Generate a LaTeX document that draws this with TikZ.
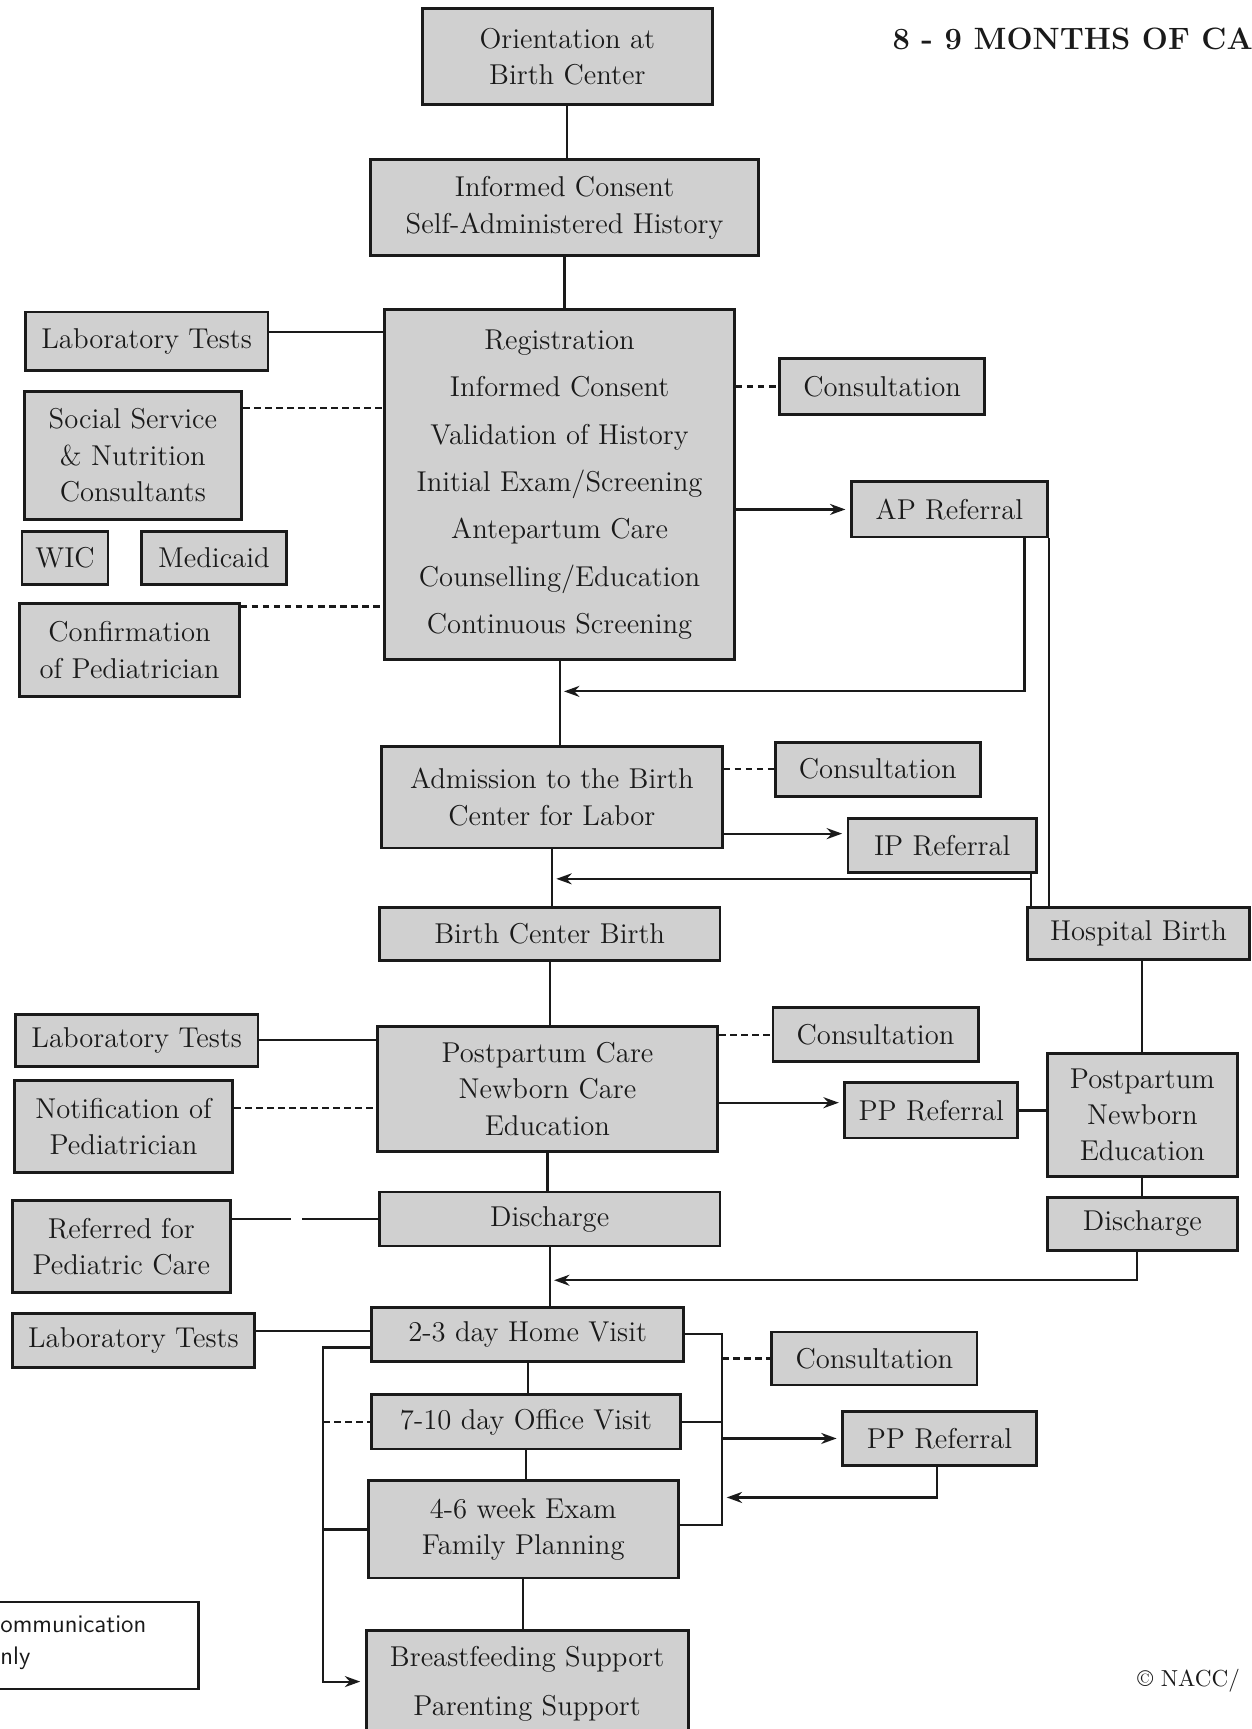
\documentclass[tikz,border=0pt]{standalone}
\usepackage{tikz}
\usetikzlibrary{arrows.meta}
\definecolor{boxgrey}{HTML}{D0D0D0}
\definecolor{inkc}{HTML}{1A1A1A}

\begin{document}
\begin{tikzpicture}[x=0.5pt, y=-0.5pt,
        stage/.style={draw=inkc, line width=1.3pt, fill=boxgrey, align=center, inner sep=0pt, text=inkc, font=\fontsize{13}{16.5}\selectfont},
        link/.style={line width=1pt, draw=inkc},
        dline/.style={link, dash pattern=on 3pt off 2pt},
        longdash/.style={link, dash pattern=on 27pt off 5pt on 60pt off 1pt},
        arr/.style={link, -{Stealth[length=7pt,width=5pt]}, shorten >=2pt}]
      \path[use as bounding box] (0,0) rectangle (1135,1568);
      \clip (0,0) rectangle (1135,1568);
      % intake
      \node[stage, minimum width=131.5pt, minimum height=43.5pt] (orient) at (514.5,51.5) {Orientation at\\ Birth Center};
      \node[stage, minimum width=176pt, minimum height=43.5pt] (consent) at (512,188.5) {Informed Consent\\ Self-Administered History};
      \node[stage, minimum width=158.5pt, minimum height=158.5pt, font=\fontsize{13}{21.5}\selectfont] (reg) at (507.5,439.5) {Registration\\ Informed Consent\\ Validation of History\\ Initial Exam/Screening\\ Antepartum Care\\ Counselling/Education\\ Continuous Screening};
      % antepartum side boxes
      \node[stage, minimum width=110pt, minimum height=26.5pt] (labA) at (133,309.5) {Laboratory Tests};
      \node[stage, minimum width=98.5pt, minimum height=58pt] (social) at (120.5,413) {Social Service\\ \& Nutrition\\ Consultants};
      \node[stage, minimum width=39pt, minimum height=24pt] (wic) at (59,506) {WIC};
      \node[stage, minimum width=66pt, minimum height=24pt] (medicaid) at (194,506) {Medicaid};
      \node[stage, minimum width=99.5pt, minimum height=42.5pt] (confirm) at (117.5,589.5) {Confirmation\\ of Pediatrician};
      \node[stage, minimum width=93pt, minimum height=25.5pt] (consA) at (800,350.5) {Consultation};
      \node[stage, minimum width=89pt, minimum height=25pt] (apref) at (861,462) {AP Referral};
      % labour
      \node[stage, minimum width=154.5pt, minimum height=46pt] (admit) at (500.5,723) {Admission to the Birth\\ Center for Labor};
      \node[stage, minimum width=93pt, minimum height=24.5pt] (consB) at (796,697.5) {Consultation};
      \node[stage, minimum width=85.5pt, minimum height=24.5pt] (ipref) at (854.5,766.5) {IP Referral};
      \node[stage, minimum width=154.5pt, minimum height=24pt] (bcbirth) at (498.5,847) {Birth Center Birth};
      \node[stage, minimum width=100.5pt, minimum height=23.5pt] (hospbirth) at (1032.5,846.5) {Hospital Birth};
      % postpartum
      \node[stage, minimum width=110pt, minimum height=23.5pt] (labB) at (124,943.5) {Laboratory Tests};
      \node[stage, minimum width=99pt, minimum height=41.5pt] (notify) at (112,1021.5) {Notification of\\ Pediatrician};
      \node[stage, minimum width=154.5pt, minimum height=56.5pt] (ppcare) at (496.5,987.5) {Postpartum Care\\ Newborn Care\\ Education};
      \node[stage, minimum width=93pt, minimum height=24.5pt] (consC) at (794,938.5) {Consultation};
      \node[stage, minimum width=78.5pt, minimum height=25pt] (ppref) at (844.5,1007) {PP Referral};
      \node[stage, minimum width=86pt, minimum height=56pt] (ppnew) at (1036,1011) {Postpartum\\ Newborn\\ Education};
      \node[stage, minimum width=99pt, minimum height=41.5pt] (referred) at (110,1130.5) {Referred for\\ Pediatric Care};
      \node[stage, minimum width=154.5pt, minimum height=24.5pt] (dischA) at (498.5,1105.5) {Discharge};
      \node[stage, minimum width=86pt, minimum height=24pt] (dischB) at (1036,1110) {Discharge};
      % follow-up
      \node[stage, minimum width=110pt, minimum height=24.5pt] (labC) at (121,1215.5) {Laboratory Tests};
      \node[stage, minimum width=141.5pt, minimum height=24.5pt] (home) at (478.5,1210.5) {2-3 day Home Visit};
      \node[stage, minimum width=93pt, minimum height=24pt] (consD) at (793,1232) {Consultation};
      \node[stage, minimum width=140pt, minimum height=24.5pt] (office) at (477,1289.5) {7-10 day Office Visit};
      \node[stage, minimum width=88pt, minimum height=24.5pt] (pprefB) at (852,1304.5) {PP Referral};
      \node[stage, minimum width=140.5pt, minimum height=44pt] (exam) at (474.5,1387) {4-6 week Exam\\ Family Planning};
      \node[stage, minimum width=146pt, minimum height=48pt, font=\fontsize{13}{22.5}\selectfont] (breast) at (478,1527) {Breastfeeding Support\\ Parenting Support};
      % legend, title, credit
      \node[draw=inkc, line width=1pt, minimum width=110pt, minimum height=39.5pt] (legend) at (70,1492.5) {};
      \node[font=\sffamily\fontsize{11.5}{14.4}\selectfont, align=left, anchor=west, inner sep=0pt, text=inkc] (legtext) at (0,1490) {ommunication\\ nly};
      \node[font=\bfseries\fontsize{14}{16}\selectfont, anchor=base west, inner sep=0pt, text=inkc] (title) at (809,45) {8 - 9 MONTHS OF CA};
      \node[font=\fontsize{10.5}{12}\selectfont, anchor=base west, inner sep=0pt, text=inkc] (credit) at (1031,1529) {\textcopyright\ NACC/};
      % bus points
      \coordinate (apjoin) at (929,627);
      \coordinate (ipjoin) at (935,797);
      \coordinate (hbjoin) at (1031,1161);
      \coordinate (lbus) at (293,1222);
      \coordinate (lbusend) at (293,1525);
      \coordinate (rbus) at (655,1210);
      \coordinate (rbusend) at (655,1383);
      \coordinate (ppjoin) at (850,1358);
      % main line
      \draw[link] (orient) -- (orient |- consent.north);
      \draw[link] (consent) -- (consent |- reg.north);
      \draw[link] (reg) -- (reg |- admit.north);
      \draw[link] (admit) -- (admit |- bcbirth.north);
      \draw[link] (bcbirth) -- (bcbirth |- ppcare.north);
      \draw[link] (ppcare) -- (ppcare |- dischA.north);
      \draw[link] (dischA) -- (dischA |- home.north);
      \draw[link] (home) -- (home |- office.north);
      \draw[link] (office) -- (office |- exam.north);
      \draw[link] (exam) -- (exam |- breast.north);
      % antepartum links
      \draw[link] (labA.east |- 0,301) -- (reg.west |- 0,301);
      \draw[dline] (social.east |- 0,370) -- (reg.west |- 0,370);
      \draw[dline] (confirm.east |- 0,550) -- (reg.west |- 0,550);
      \draw[dline] (reg.east |- consA) -- (consA);
      \draw[arr] (reg.east |- apref) -- (apref);
      \draw[arr] (apref.south -| apjoin) -- (apjoin) -- (apjoin -| reg.south);
      \draw[link] (apref.south east) -- (apref.east |- hospbirth.north);
      % labour links
      \draw[dline] (admit.east |- consB) -- (consB);
      \draw[arr] (admit.east |- 0,756) -- (ipref.west |- 0,756);
      \draw[arr] (ipref.south -| ipjoin) -- (ipjoin) -- (ipjoin -| admit.south);
      \draw[link] (ipjoin) -- (ipjoin |- hospbirth.north);
      % postpartum links
      \draw[link] (labB) -- (labB -| ppcare.west);
      \draw[dline] (notify.east |- 0,1005) -- (ppcare.west |- 0,1005);
      \draw[dline] (ppcare.east |- consC) -- (consC);
      \draw[arr] (ppcare.east |- 0,1000) -- (ppref.west |- 0,1000);
      \draw[link] (ppref) -- (ppref -| ppnew.west);
      \draw[link] (hospbirth.south -| ppnew) -- (ppnew);
      \draw[link] (ppnew) -- (dischB);
      \draw[arr] (dischB.south -| hbjoin) -- (hbjoin) -- (hbjoin -| dischA.south);
      \draw[longdash] (referred.east |- dischA) -- (dischA);
      % follow-up links
      \draw[link] (labC.east |- 0,1207) -- (home.west |- 0,1207);
      \draw[arr] (home.west |- lbus) -- (lbus) -- (lbusend) -- (breast.west |- lbusend);
      \draw[dline] (lbus |- office) -- (office);
      \draw[link] (lbus |- exam) -- (exam);
      \draw[link] (home.east |- rbus) -- (rbus) -- (rbusend) -- (exam.east |- rbusend);
      \draw[link] (office) -- (rbus |- office);
      \draw[dline] (rbus |- consD) -- (consD);
      \draw[arr] (rbus |- pprefB) -- (pprefB);
      \draw[arr] (pprefB.south -| ppjoin) -- (ppjoin) -- (ppjoin -| rbus);
    \end{tikzpicture}
\end{document}
